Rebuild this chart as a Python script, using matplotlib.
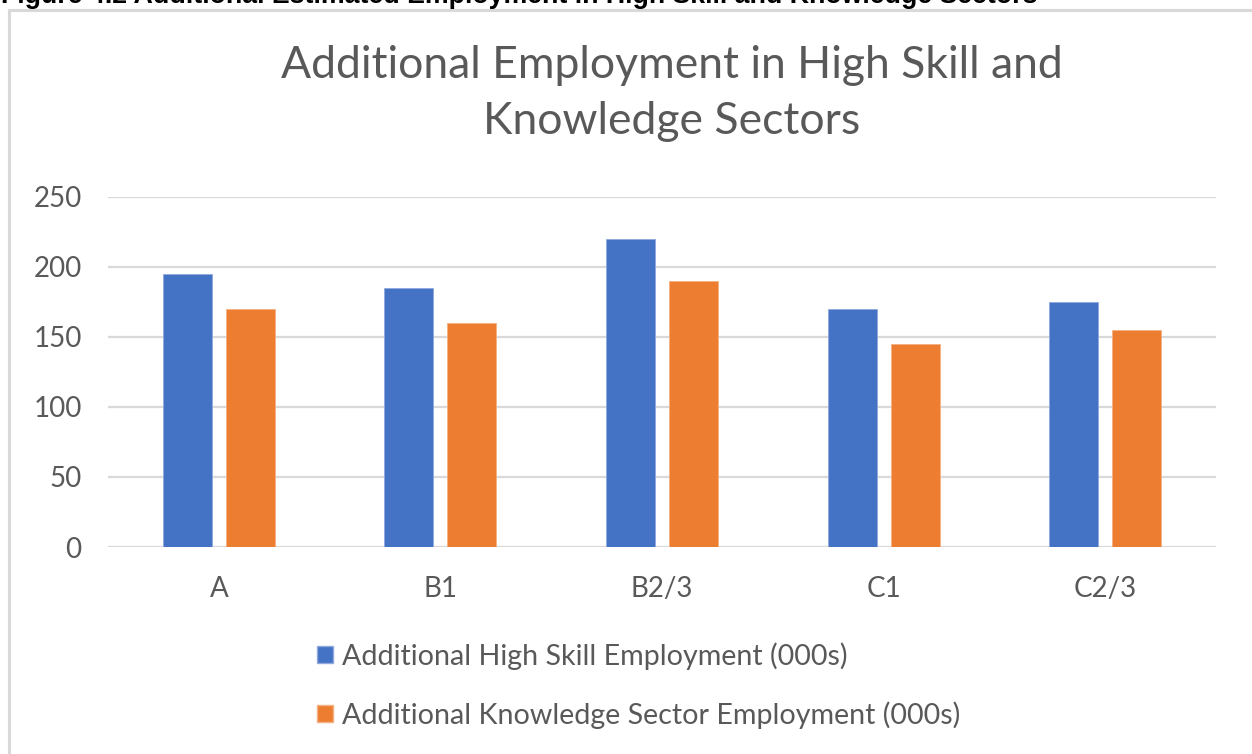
import matplotlib
matplotlib.use("Agg")
import matplotlib.pyplot as plt
import numpy as np
from matplotlib.patches import Patch
from matplotlib.lines import Line2D

categories = ["A", "B1", "B2/3", "C1", "C2/3"]
high_skill = [195, 185, 220, 170, 175]
knowledge = [170, 160, 190, 145, 155]
series_labels = ["Additional High Skill Employment (000s)",
                 "Additional Knowledge Sector Employment (000s)"]
yticks = [0, 50, 100, 150, 200, 250]

FONT = ["Lato", "DejaVu Sans"]
GRAY = "#595959"
BLUE = "#4472C4"
ORANGE = "#ED7D31"

W, H = 1252, 754
fig = plt.figure(figsize=(W / 100, H / 100), dpi=100)

# outer chart border (left and top only visible)
fig.add_artist(Line2D([9 / W, 9 / W], [0, 1 - 10 / H], transform=fig.transFigure,
                      color="#d9d9d9", lw=2.2))
fig.add_artist(Line2D([9 / W, 1], [1 - 10 / H, 1 - 10 / H], transform=fig.transFigure,
                      color="#d9d9d9", lw=2.2))

# clipped caption at top
fig.text(1 / W, 1 - 3 / H, "Figure 4.2 Additional Estimated Employment in High Skill and Knowledge Sectors",
         fontsize=19.3, fontweight="bold", family=["Liberation Sans", "DejaVu Sans"],
         color="black", ha="left", va="baseline")

ax = fig.add_axes([108 / W, 1 - 547 / H, (1216 - 108) / W, (547 - 197) / H])
x = np.arange(len(categories))
bw = 0.221
off = 0.142
ax.bar(x - off, high_skill, bw, color=BLUE, edgecolor="#8faadc", linewidth=0.6, zorder=3,
       label=series_labels[0])
ax.bar(x + off, knowledge, bw, color=ORANGE, edgecolor="#f4b183", linewidth=0.6, zorder=3,
       label=series_labels[1])

ax.set_xlim(-0.5, len(categories) - 0.5)
ax.set_ylim(0, 250)
ax.set_yticks(yticks)
ax.set_xticks(x)
ax.set_xticklabels(categories)
ax.yaxis.grid(True, color="#d9d9d9", lw=1.6, zorder=0)
ax.set_axisbelow(True)
for s in ax.spines.values():
    s.set_visible(False)
ax.tick_params(length=0, labelsize=20, labelcolor=GRAY)
ax.tick_params(axis="y", pad=19)
ax.tick_params(axis="x", pad=21)
for lab in ax.get_xticklabels() + ax.get_yticklabels():
    lab.set_family(FONT)

fig.text(672 / W, 1 - 65 / H, "Additional Employment in High Skill and",
         fontsize=32, color=GRAY, family=FONT, ha="center", va="center")
fig.text(672 / W, 1 - 122 / H, "Knowledge Sectors",
         fontsize=32, color=GRAY, family=FONT, ha="center", va="center")

handles = [Patch(facecolor=BLUE, edgecolor="#8faadc"), Patch(facecolor=ORANGE, edgecolor="#f4b183")]
leg = fig.legend(handles, series_labels, loc="upper left", bbox_to_anchor=(317 / W, 1 - 642 / H),
                 frameon=False, handlelength=0.55, handleheight=0.55, handletextpad=0.32,
                 labelspacing=1.1, prop={"family": FONT, "size": 20.6}, borderpad=0, borderaxespad=0)
for t in leg.get_texts():
    t.set_color(GRAY)

fig.savefig("out.png", dpi=100, facecolor="white")
